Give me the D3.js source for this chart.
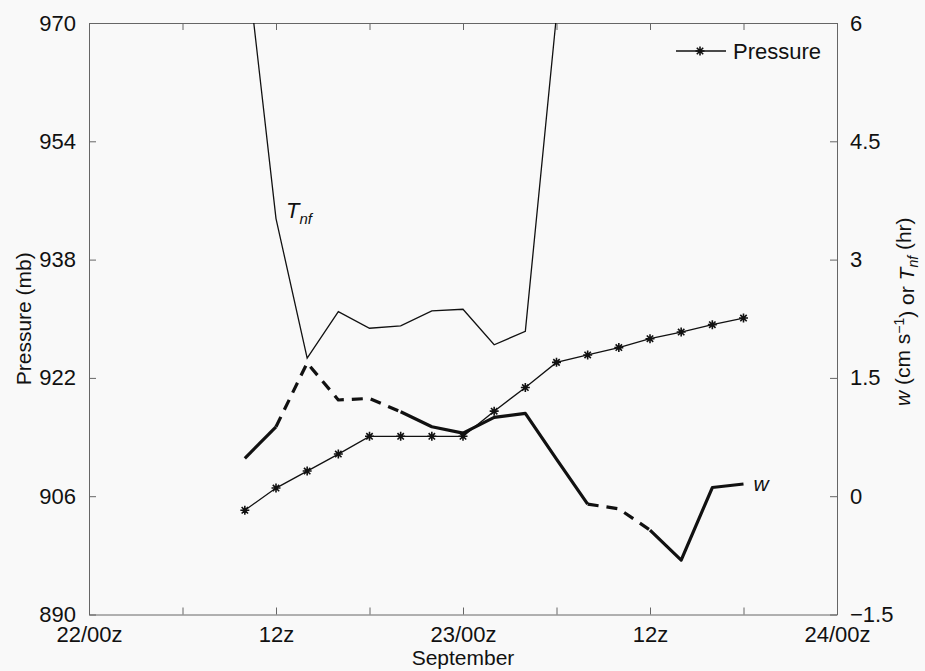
<!DOCTYPE html>
<meta charset="utf-8">
<script src="https://d3js.org/d3.v7.min.js"></script>
<style>
  body { margin: 0; background: #f9f9f9; }
  text { font-family: "Liberation Sans", Arial, sans-serif; fill: #111; }
</style>
<div id="my_dataviz"></div>
<script>

    // data (hours after 22/00z)
    var hours = [10,12,14,16,18,20,22,24,26,28,30,32,34,36,38,40,42];
    var pressure = [904.1,907.1,909.4,911.7,914.1,914.1,914.1,914.1,917.5,920.7,924.1,925.1,926.1,927.3,928.2,929.2,930.1];
    var wValues = [0.48,0.88,1.69,1.22,1.24,1.07,0.88,0.80,1.00,1.05,0.47,-0.10,-0.16,-0.43,-0.81,0.11,0.155];
    var tnfHours = [10,12,14,16,18,20,22,24,26,28,30];
    var tnfValues = [7.0,3.52,1.75,2.34,2.13,2.16,2.35,2.37,1.92,2.09,6.1];
    // parts of w drawn dashed / solid
    var wDashed = [[12,20],[32,36]];
    var wSolid = [[10,12],[20,32],[36,42]];

    var xTicks = [0,6,12,18,24,30,36,42,48];
    var xLabels = {0:"22/00z",12:"12z",24:"23/00z",36:"12z",48:"24/00z"};
    var pTicks = [890,906,922,938,954,970];
    var rTicks = [-1.5,0,1.5,3,4.5,6];
    var rLabels = ["\u22121.5","0","1.5","3","4.5","6"];

    // set the dimensions and margins of the graph
    var margin = {top: 23, right: 88, bottom: 56.5, left: 89},
        width = 925 - margin.left - margin.right,
        height = 671 - margin.top - margin.bottom;

    var svg = d3.select("#my_dataviz")
      .append("svg")
        .attr("width", 925)
        .attr("height", 671)
      .append("g")
        .attr("transform", "translate(" + margin.left + "," + margin.top + ")");

    var x = d3.scaleLinear().domain([0,48]).range([0, width]);
    var yP = d3.scaleLinear().domain([890,970]).range([height, 0]);
    var yR = d3.scaleLinear().domain([-1.5,6]).range([height, 0]);

    // axes, ticks inside the box
    var axisCol = "#666";
    function styleAxis(g) {
        g.select(".domain").attr("stroke", axisCol);
        g.selectAll(".tick line").attr("stroke", axisCol);
        g.selectAll(".tick text").style("font-size", "22px");
    }

    svg.append("g")
        .attr("transform", "translate(0," + height + ")")
        .call(d3.axisBottom(x).tickValues(xTicks).tickSizeInner(-7).tickSizeOuter(0)
            .tickFormat(function(d){ return xLabels[d] || ""; }).tickPadding(12))
        .call(styleAxis);

    svg.append("g")
        .call(d3.axisTop(x).tickValues(xTicks).tickSizeInner(-7).tickSizeOuter(0).tickFormat(""))
        .call(styleAxis);

    svg.append("g")
        .call(d3.axisLeft(yP).tickValues(pTicks).tickSizeInner(-7).tickSizeOuter(0).tickPadding(13))
        .call(styleAxis);

    svg.append("g")
        .attr("transform", "translate(" + width + ",0)")
        .call(d3.axisRight(yR).tickValues(rTicks).tickSizeInner(-7).tickSizeOuter(0).tickPadding(13)
            .tickFormat(function(d, i){ return rLabels[i]; }))
        .call(styleAxis);

    svg.selectAll(".tick text").attr("fill", "#111");

    // axis titles
    svg.append("text")
        .attr("x", width / 2).attr("y", height + 50)
        .attr("text-anchor", "middle")
        .style("font-size", "21px")
        .text("September");

    svg.append("text")
        .attr("transform", "translate(" + (-65) + "," + (height / 2) + ") rotate(-90)")
        .attr("text-anchor", "middle")
        .attr("dy", "0.35em")
        .style("font-size", "21px")
        .text("Pressure (mb)");

    var rTitle = svg.append("text")
        .attr("transform", "translate(" + (width + 66) + "," + (height / 2 - 7) + ") rotate(-90)")
        .attr("text-anchor", "middle")
        .attr("dy", "0.35em")
        .style("font-size", "21px");
    rTitle.append("tspan").style("font-style", "italic").text("w");
    rTitle.append("tspan").text(" (cm s");
    rTitle.append("tspan").attr("dy", "-0.45em").style("font-size", "14px").text("\u22121");
    rTitle.append("tspan").attr("dy", "0.45em").text(") or  ");
    rTitle.append("tspan").style("font-style", "italic").text("T");
    rTitle.append("tspan").attr("dy", "0.35em").style("font-size", "14px").style("font-style", "italic").text("nf");
    rTitle.append("tspan").attr("dy", "-0.35em").text(" (hr)");

    // clip everything to the box
    svg.append("defs").append("clipPath")
        .attr("id", "clip")
      .append("rect")
        .attr("width", width).attr("height", height);

    var plot = svg.append("g").attr("clip-path", "url(#clip)");

    // T_nf, thin line
    var tnfLine = d3.line()
        .x(function(d, i) { return x(tnfHours[i]); })
        .y(function(d) { return yR(d); });
    plot.append("path")
        .attr("d", tnfLine(tnfValues))
        .attr("fill", "none")
        .attr("stroke", "#111")
        .attr("stroke-width", 1.3);

    // w, thick line with dashed stretches
    var wPts = hours.map(function(h, i) { return {h: h, v: wValues[i]}; });
    var wLine = d3.line()
        .x(function(d) { return x(d.h); })
        .y(function(d) { return yR(d.v); });
    function drawW(ranges, dash) {
        ranges.forEach(function(r) {
            var seg = wPts.filter(function(d) { return d.h >= r[0] && d.h <= r[1]; });
            plot.append("path")
                .attr("d", wLine(seg))
                .attr("fill", "none")
                .attr("stroke", "#111")
                .attr("stroke-width", 3.2)
                .attr("stroke-linejoin", "round")
                .attr("stroke-dasharray", dash);
        });
    }
    drawW(wSolid, null);
    drawW(wDashed, "11,8");

    // pressure with asterisk markers
    var pLine = d3.line()
        .x(function(d, i) { return x(hours[i]); })
        .y(function(d) { return yP(d); });
    plot.append("path")
        .attr("d", pLine(pressure))
        .attr("fill", "none")
        .attr("stroke", "#111")
        .attr("stroke-width", 1.3);

    var star = "M-4.5,0L4.5,0M0,-4.5L0,4.5M-3.2,-3.2L3.2,3.2M-3.2,3.2L3.2,-3.2";
    plot.selectAll(".star")
        .data(pressure)
      .enter().append("path")
        .attr("class", "star")
        .attr("transform", function(d, i) { return "translate(" + x(hours[i]) + "," + yP(d) + ")"; })
        .attr("d", star)
        .attr("stroke", "#111")
        .attr("stroke-width", 1.6);

    // curve labels
    var tLab = svg.append("text")
        .attr("x", x(12) + 10).attr("y", yR(3.52) - 1)
        .style("font-size", "22px")
        .style("font-style", "italic");
    tLab.append("tspan").text("T");
    tLab.append("tspan").attr("dy", "0.45em").style("font-size", "15px").text("nf");

    svg.append("text")
        .attr("x", x(42) + 10).attr("y", yR(0.155) + 7)
        .style("font-size", "21px")
        .style("font-style", "italic")
        .text("w");

    // legend
    var leg = svg.append("g").attr("transform", "translate(" + (width - 161) + ",28)");
    leg.append("line")
        .attr("x1", 0).attr("x2", 50)
        .attr("stroke", "#111").attr("stroke-width", 1.3);
    leg.append("path")
        .attr("transform", "translate(24,0)")
        .attr("d", star)
        .attr("stroke", "#111").attr("stroke-width", 1.6);
    leg.append("text")
        .attr("x", 57).attr("dy", "0.35em")
        .style("font-size", "22px")
        .text("Pressure");

</script>
